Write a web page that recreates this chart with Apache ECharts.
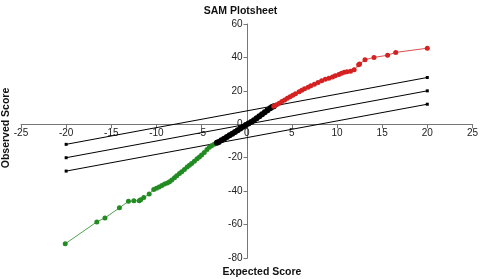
<!DOCTYPE html>
<html>
<head>
<meta charset="utf-8">
<title>SAM Plotsheet</title>
<script src="https://cdn.jsdelivr.net/npm/echarts@6/dist/echarts.min.js"></script>
<style>
  html, body { margin: 0; padding: 0; background: #fff; }
  #chart { width: 481px; height: 279px; }
</style>
</head>
<body>
<div id="chart"></div>
<script>
  // axes
  const xTicks = { min: -25, max: 25, step: 5 }
  const yTicks = { min: -80, max: 60, step: 20 }

  // cutoff lines (expected score -> observed score)
  const cutX = [-20, 20]
  const cutUpper = [-12, 28]
  const cutMiddle = [-20, 20]
  const cutLower = [-28, 12]

  // significant negative genes (green)
  const greenX = [-20.1, -16.6, -15.7, -14.1, -13.1, -12.5, -11.9, -11.75, -11.4, -10.8, -10.3, -10.0, -9.7, -9.4, -9.1, -8.8, -8.55, -8.3, -8.0, -7.75, -7.45, -7.2, -6.9, -6.6, -6.35, -6.1, -5.8, -5.5, -5.24, -5.0, -4.7, -4.4, -4.14, -3.9, -3.6, -3.3]
  const greenY = [-71.5, -58.4, -56, -50, -46.1, -45.8, -45.8, -45.2, -43.8, -41.7, -39, -38.3, -37.5, -36.6, -35.8, -35.2, -34.4, -33.3, -32, -30.8, -29.5, -28.4, -27, -25.6, -24.5, -23.5, -22.1, -20.6, -19.5, -18.4, -16.9, -15.1, -13.7, -12.8, -11.9, -11.1]

  // non significant genes (black)
  const blackX = [-3.3, -3.1, -2.8, -2.5, -2.2, -1.9, -1.6, -1.3, -1.0, -0.7, -0.4, -0.1, 0.2, 0.5, 0.8, 1.1, 1.4, 1.7, 2.0, 2.3, 2.6, 2.8, 3.0]
  const blackY = [-11.1, -10.6, -9.6, -8.6, -7.6, -6.6, -5.6, -4.6, -3.5, -2.5, -1.5, -0.5, 0.4, 1.4, 2.4, 3.6, 4.8, 6.0, 7.2, 8.4, 9.6, 10.3, 10.8]

  // significant positive genes (red)
  const redX = [3.0, 3.3, 3.6, 3.9, 4.2, 4.5, 4.8, 5.1, 5.4, 5.8, 6.1, 6.4, 6.8, 7.1, 7.5, 7.9, 8.3, 8.7, 9.1, 9.5, 9.8, 10.2, 10.5, 10.8, 11.1, 11.5, 11.9, 12.4, 12.5, 13.1, 14.1, 15.6, 16.5, 20.0]
  const redY = [10.8, 11.7, 12.6, 13.6, 14.6, 15.6, 16.4, 17.3, 18.2, 19.5, 20.4, 21.2, 22.2, 23.0, 24.0, 25.0, 26.0, 26.9, 27.6, 28.3, 29.0, 29.8, 30.5, 31.2, 31.4, 31.8, 32.6, 35.6, 36.0, 38.6, 40.0, 41.3, 43.0, 45.5]

  const zip = (xs, ys) => xs.map((x, i) => [x, ys[i]])

  // grid box, axes are shifted onto the zero lines with offset
  const grid = { left: 21, right: 7, top: 24, bottom: 21 }
  const plotW = 481 - grid.left - grid.right
  const plotH = 279 - grid.top - grid.bottom
  const xAxisOffset = -plotH * (0 - yTicks.min) / (yTicks.max - yTicks.min)
  const yAxisOffset = -plotW * (0 - xTicks.min) / (xTicks.max - xTicks.min)

  const cutLine = (ys) => ({
    type: 'line',
    data: zip(cutX, ys),
    symbol: 'rect',
    symbolSize: 3,
    lineStyle: { color: '#000', width: 1 },
    itemStyle: { color: '#000' },
    silent: true,
    z: 2
  })

  const genes = (xs, ys, color, size) => ({
    type: 'line',
    data: zip(xs, ys),
    symbol: 'circle',
    symbolSize: size,
    showAllSymbol: true,
    lineStyle: { color: color, width: 0.8 },
    itemStyle: { color: color },
    z: 3
  })

  const axisText = { color: '#222', fontSize: 10, fontFamily: 'Liberation Sans' }

  const chart = echarts.init(document.getElementById('chart'))
  chart.setOption({
    animation: false,
    textStyle: { fontFamily: 'Liberation Sans' },
    title: {
      text: 'SAM Plotsheet',
      left: 'center',
      top: 1,
      textStyle: { fontSize: 10.5, fontWeight: 'bold', color: '#111' }
    },
    grid: grid,
    xAxis: {
      type: 'value',
      min: xTicks.min,
      max: xTicks.max,
      interval: xTicks.step,
      offset: xAxisOffset,
      axisLine: { onZero: false, lineStyle: { color: '#777', width: 1 } },
      axisTick: { show: true, length: 4, lineStyle: { color: '#777' } },
      axisLabel: Object.assign({ margin: 4 }, axisText),
      splitLine: { show: false }
    },
    yAxis: {
      type: 'value',
      min: yTicks.min,
      max: yTicks.max,
      interval: yTicks.step,
      offset: yAxisOffset,
      axisLine: { show: true, onZero: false, lineStyle: { color: '#777', width: 1 } },
      axisTick: { show: true, length: 4, lineStyle: { color: '#777' } },
      axisLabel: Object.assign({ margin: 5 }, axisText),
      splitLine: { show: false }
    },
    graphic: [
      {
        type: 'text',
        x: 6,
        y: 128,
        rotation: Math.PI / 2,
        style: {
          text: 'Observed Score',
          fontSize: 10.5,
          fontWeight: 'bold',
          fontFamily: 'Liberation Sans',
          fill: '#111',
          align: 'center',
          verticalAlign: 'middle'
        }
      },
      {
        type: 'text',
        x: 262,
        y: 272,
        style: {
          text: 'Expected Score',
          fontSize: 10.5,
          fontWeight: 'bold',
          fontFamily: 'Liberation Sans',
          fill: '#111',
          align: 'center',
          verticalAlign: 'middle'
        }
      }
    ],
    series: [
      cutLine(cutUpper),
      cutLine(cutMiddle),
      cutLine(cutLower),
      genes(greenX, greenY, '#228b22', 5),
      genes(blackX, blackY, '#000', 6),
      genes(redX, redY, '#d42121', 5)
    ]
  })
</script>
</body>
</html>
